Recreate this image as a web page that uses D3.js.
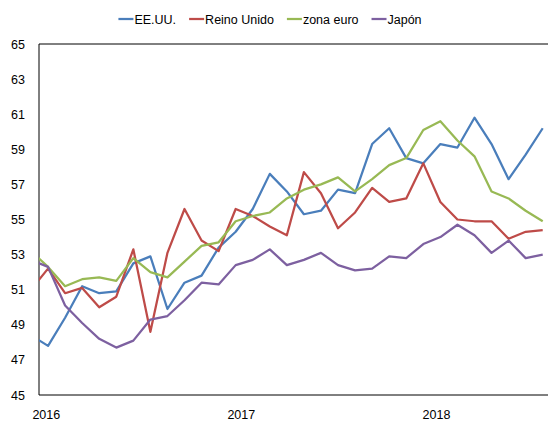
<!DOCTYPE html>
<html>
<head>
<meta charset="utf-8">
<script src="https://cdn.jsdelivr.net/npm/d3@7"></script>
<style>
  body { margin: 0; background: #fff; }
  text { font-family: "Liberation Sans", Arial, sans-serif; fill: #000; }
</style>
</head>
<body>
<div id="chart"></div>
<script>
// Months (first point is Dec 2015, partly hidden by the axis)
var months = ["2015-12",
  "2016-01","2016-02","2016-03","2016-04","2016-05","2016-06","2016-07","2016-08","2016-09","2016-10","2016-11","2016-12",
  "2017-01","2017-02","2017-03","2017-04","2017-05","2017-06","2017-07","2017-08","2017-09","2017-10","2017-11","2017-12",
  "2018-01","2018-02","2018-03","2018-04","2018-05","2018-06"];

// Series values
var eeuu = [48.4, 47.8, 49.4, 51.2, 50.8, 50.9, 52.5, 52.9, 49.9, 51.4, 51.8, 53.4, 54.3, 55.6, 57.6, 56.6,
  55.3, 55.5, 56.7, 56.5, 59.3, 60.2, 58.5, 58.2, 59.3, 59.1, 60.8, 59.3, 57.3, 58.7, 60.2];
var reinoUnido = [51.0, 52.2, 50.8, 51.1, 50.0, 50.6, 53.3, 48.6, 53.1, 55.6, 53.8, 53.2, 55.6, 55.2, 54.6, 54.1,
  57.7, 56.5, 54.5, 55.4, 56.8, 56.0, 56.2, 58.2, 56.0, 55.0, 54.9, 54.9, 53.9, 54.3, 54.4];
var zonaEuro = [53.2, 52.3, 51.2, 51.6, 51.7, 51.5, 52.8, 52.0, 51.7, 52.6, 53.5, 53.7, 54.9, 55.2, 55.4, 56.2,
  56.7, 57.0, 57.4, 56.6, 57.3, 58.1, 58.5, 60.1, 60.6, 59.5, 58.6, 56.6, 56.2, 55.5, 54.9];
var japon = [52.7, 52.3, 50.1, 49.1, 48.2, 47.7, 48.1, 49.3, 49.5, 50.4, 51.4, 51.3, 52.4, 52.7, 53.3, 52.4,
  52.7, 53.1, 52.4, 52.1, 52.2, 52.9, 52.8, 53.6, 54.0, 54.7, 54.1, 53.1, 53.8, 52.8, 53.0];

var seriesNames = ["EE.UU.", "Reino Unido", "zona euro", "Japón"];
var seriesColors = ["#4a7ebb", "#be4b48", "#98b954", "#7d60a0"];
var seriesValues = [eeuu, reinoUnido, zonaEuro, japon];

// Axis ticks
var yTicks = [45, 47, 49, 51, 53, 55, 57, 59, 61, 63, 65];
var yearLabels = ["2016", "2017", "2018"];
var yearTickIndex = [0.87, 12.3, 23.74];

var width = 548, height = 422;
var plot = { left: 39, right: 548, top: 44, bottom: 395 };

var svg = d3.select("#chart").append("svg")
  .attr("width", width)
  .attr("height", height);

// Scales: x runs over the month index
var x = d3.scaleLinear().domain([0.47, 30.31]).range([plot.left, plot.right]);
var y = d3.scaleLinear().domain([45, 65]).range([plot.bottom, plot.top]);

// Clip lines to the plot area
svg.append("clipPath").attr("id", "plotClip")
  .append("rect")
  .attr("x", plot.left).attr("y", 0)
  .attr("width", plot.right - plot.left).attr("height", height);

// Frame: top, left and bottom lines
svg.append("path")
  .attr("d", "M" + plot.right + "," + plot.top + "H" + plot.left + "V" + plot.bottom + "H" + plot.right)
  .attr("fill", "none")
  .attr("stroke", "#000")
  .attr("stroke-width", 1);

// Y axis labels
var yAxis = svg.append("g")
  .attr("transform", "translate(" + plot.left + ",0)")
  .call(d3.axisLeft(y).tickValues(yTicks).tickSize(0).tickPadding(14));
yAxis.select(".domain").remove();
yAxis.selectAll("text").style("font-size", "12.5px").attr("fill", "#000");

// X axis labels
var xAxis = svg.append("g")
  .attr("transform", "translate(0," + plot.bottom + ")")
  .call(d3.axisBottom(x).tickValues(yearTickIndex).tickSize(0).tickPadding(15)
    .tickFormat(function (d, i) { return yearLabels[i]; }));
xAxis.select(".domain").remove();
xAxis.selectAll("text").style("font-size", "12.5px").attr("fill", "#000");

// Lines
var line = d3.line()
  .x(function (d, i) { return x(i); })
  .y(function (d) { return y(d); });

var lines = svg.append("g").attr("clip-path", "url(#plotClip)");
seriesValues.forEach(function (vals, k) {
  lines.append("path")
    .datum(vals)
    .attr("fill", "none")
    .attr("stroke", seriesColors[k])
    .attr("stroke-width", 2.25)
    .attr("stroke-linejoin", "round")
    .attr("d", line);
});

// Legend, centred at the top
var legend = svg.append("g");
var lx = 0;
seriesNames.forEach(function (name, k) {
  var item = legend.append("g").attr("transform", "translate(" + lx + ",0)");
  item.append("line")
    .attr("x1", 0).attr("x2", 15).attr("y1", 19).attr("y2", 19)
    .attr("stroke", seriesColors[k]).attr("stroke-width", 2.25);
  var t = item.append("text")
    .attr("x", 16).attr("y", 23.5)
    .style("font-size", "12.5px")
    .text(name);
  lx += 16 + t.node().getComputedTextLength() + 13;
});
lx -= 13;
legend.attr("transform", "translate(" + (270 - lx / 2) + ",0)");
</script>
</body>
</html>
